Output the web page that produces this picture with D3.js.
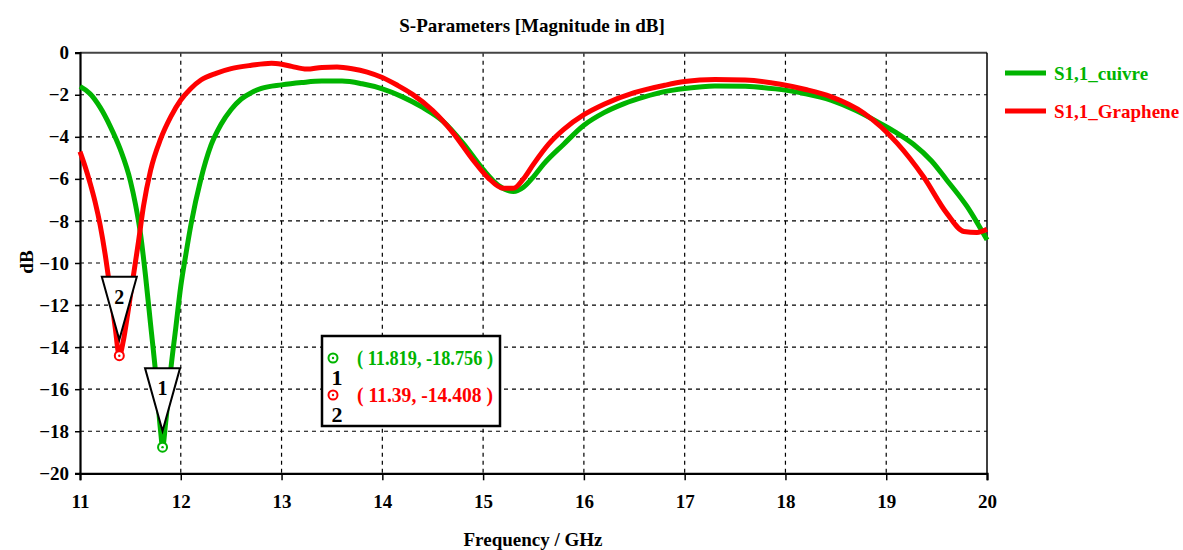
<!DOCTYPE html>
<html><head><meta charset="utf-8">
<script src="https://cdn.jsdelivr.net/npm/d3@7"></script>
<style>
body{margin:0;background:#fff;}
svg text{font-family:"Liberation Serif",Tinos,"Times New Roman",Times,"DejaVu Serif",serif !important;font-weight:bold;}
</style></head>
<body><svg id="c" width="1183" height="550"></svg>
<script>
const freqCuivre = [11.0,11.1,11.2,11.3,11.4,11.5,11.55,11.6,11.65,11.7,11.75,11.8,11.819,11.85,11.9,11.95,12.0,12.05,12.1,12.2,12.3,12.4,12.5,12.6,12.7,12.8,13.0,13.2,13.4,13.6,13.8,14.0,14.2,14.4,14.6,14.8,15.0,15.15,15.3,15.4,15.5,15.6,15.8,16.0,16.2,16.4,16.6,16.8,17.0,17.3,17.6,17.9,18.2,18.45,18.7,18.94,19.1,19.27,19.45,19.6,19.8,20.0];
const s11Cuivre = [-1.6,-1.95,-2.6,-3.5,-4.6,-6.1,-7.2,-8.6,-10.6,-12.9,-15.2,-18.0,-18.756,-17.6,-15.1,-13.1,-11.1,-9.6,-8.2,-6.0,-4.4,-3.4,-2.7,-2.2,-1.9,-1.7,-1.53,-1.42,-1.35,-1.35,-1.48,-1.72,-2.1,-2.6,-3.25,-4.3,-5.55,-6.3,-6.6,-6.4,-5.9,-5.3,-4.35,-3.45,-2.85,-2.42,-2.1,-1.85,-1.7,-1.58,-1.6,-1.72,-1.95,-2.25,-2.75,-3.36,-3.8,-4.35,-5.15,-6.05,-7.3,-8.9];
const freqGraphene = [11.0,11.05,11.1,11.15,11.2,11.25,11.3,11.35,11.39,11.43,11.48,11.53,11.58,11.63,11.7,11.8,11.9,12.0,12.1,12.2,12.35,12.5,12.7,12.9,13.0,13.1,13.25,13.4,13.55,13.7,13.85,14.0,14.15,14.3,14.5,14.7,14.9,15.05,15.2,15.3,15.4,15.5,15.65,15.8,16.0,16.2,16.5,16.8,17.0,17.3,17.6,17.95,18.2,18.45,18.78,19.11,19.37,19.6,19.77,19.9,20.0];
const s11Graphene = [-4.7,-5.4,-6.2,-7.1,-8.2,-9.6,-11.3,-13.1,-14.408,-13.7,-12.2,-10.6,-9.0,-7.3,-5.6,-4.1,-3.05,-2.25,-1.7,-1.3,-0.98,-0.76,-0.6,-0.5,-0.55,-0.65,-0.78,-0.7,-0.68,-0.76,-0.92,-1.18,-1.55,-1.98,-2.75,-3.8,-5.1,-5.95,-6.45,-6.45,-6.0,-5.3,-4.35,-3.65,-2.95,-2.45,-1.9,-1.55,-1.37,-1.27,-1.3,-1.5,-1.75,-2.09,-2.88,-4.31,-5.9,-7.63,-8.5,-8.55,-8.4];
const seriesNames = ["S1,1_cuivre","S1,1_Graphene"];
const seriesColors = ["#00b400","#ff0000"];
const xTicks = [11,12,13,14,15,16,17,18,19,20];
const yTicks = [0,-2,-4,-6,-8,-10,-12,-14,-16,-18,-20];
const markerIds = ["1","2"];
const markerFreq = [11.819,11.39];
const markerVal = [-18.756,-14.408];
const markerText = ["( 11.819, -18.756 )","( 11.39, -14.408 )"];

const FONT='"Liberation Serif",Tinos,"Times New Roman",Times,"DejaVu Serif",serif';
const svg = d3.select("#c");
const L=80, R=987, T=52.7, B=473.3;
const x = d3.scaleLinear().domain([11,20]).range([L,R]);
const y = d3.scaleLinear().domain([0,-20]).range([T,B]);

function txt(sel){ return sel.attr("font-family",FONT).attr("font-weight","bold"); }

// grid
const g = svg.append("g");
g.selectAll(".vg").data(xTicks.slice(1,-1)).enter().append("line")
  .attr("x1",d=>x(d)).attr("x2",d=>x(d)).attr("y1",T).attr("y2",B)
  .attr("stroke","#000").attr("stroke-width",1.2).attr("stroke-dasharray","4,4");
g.selectAll(".hg").data(yTicks.slice(1,-1)).enter().append("line")
  .attr("x1",L).attr("x2",R).attr("y1",d=>y(d)).attr("y2",d=>y(d))
  .attr("stroke","#000").attr("stroke-width",1.2).attr("stroke-dasharray","4,4");
svg.append("line").attr("x1",L).attr("x2",R).attr("y1",T).attr("y2",T).attr("stroke","#444").attr("stroke-width",2);
svg.append("line").attr("x1",R).attr("x2",R).attr("y1",T).attr("y2",B).attr("stroke","#000").attr("stroke-width",1.5);

// axes
const xAxis = d3.axisBottom(x).tickValues(xTicks).tickSize(7).tickPadding(14).tickFormat(d3.format("d"));
const ax = svg.append("g").attr("transform",`translate(0,${B})`).call(xAxis);
ax.attr("font-family",FONT);
ax.select(".domain").attr("stroke","#000").attr("stroke-width",2.2);
ax.selectAll(".tick line").attr("stroke","#000").attr("stroke-width",1.5);
txt(ax.selectAll("text")).attr("font-size",19).attr("fill","#000");
const yAxis = d3.axisLeft(y).tickValues(yTicks).tickSize(5).tickPadding(6).tickFormat(d3.format("d"));
const ay = svg.append("g").attr("transform",`translate(${L},0)`).call(yAxis);
ay.attr("font-family",FONT);
ay.select(".domain").attr("stroke","#000").attr("stroke-width",2.2);
ay.selectAll(".tick line").attr("stroke","#000").attr("stroke-width",1.5);
txt(ay.selectAll("text")).attr("font-size",19).attr("fill","#000");

// curves
const line = d3.line().x(d=>x(d[0])).y(d=>y(d[1])).curve(d3.curveMonotoneX);
const dataC = freqCuivre.map((f,i)=>[f,s11Cuivre[i]]);
const dataG = freqGraphene.map((f,i)=>[f,s11Graphene[i]]);
[dataC,dataG].forEach((d,i)=>{
  svg.append("path").datum(d).attr("d",line).attr("fill","none")
    .attr("stroke",seriesColors[i]).attr("stroke-width",5).attr("stroke-linejoin","round");
});

// marker triangles
markerIds.forEach((id,i)=>{
  const px=x(markerFreq[i]), py=y(markerVal[i]);
  const ay2=py-16, top=ay2-63, hw=17.5;
  svg.append("path").attr("d",`M${px-hw},${top}L${px+hw},${top}L${px},${ay2}Z`)
    .attr("fill","#fff").attr("stroke","#000").attr("stroke-width",2);
  txt(svg.append("text")).attr("x",px).attr("y",top+27).attr("text-anchor","middle")
    .attr("font-size",20).attr("fill","#000").text(id);
  const col=seriesColors[i];
  svg.append("circle").attr("cx",px).attr("cy",py).attr("r",4.5).attr("fill","#fff").attr("stroke",col).attr("stroke-width",2);
  svg.append("circle").attr("cx",px).attr("cy",py).attr("r",1.2).attr("fill",col);
});

// marker box
svg.append("rect").attr("x",322).attr("y",336).attr("width",178).attr("height",90)
  .attr("fill","#fff").attr("stroke","#000").attr("stroke-width",2.5);
markerIds.forEach((id,i)=>{
  const cy=358+i*37, col=seriesColors[i];
  svg.append("circle").attr("cx",333).attr("cy",cy).attr("r",4.5).attr("fill","#fff").attr("stroke",col).attr("stroke-width",2);
  svg.append("circle").attr("cx",333).attr("cy",cy).attr("r",1.2).attr("fill",col);
  txt(svg.append("text")).attr("x",337).attr("y",cy+27).attr("text-anchor","middle").attr("font-size",22).attr("fill","#000").text(id);
  txt(svg.append("text")).attr("x",357).attr("y",cy+7).attr("font-size",20).attr("textLength",136).attr("lengthAdjust","spacingAndGlyphs").attr("fill",col).text(markerText[i]);
});

// legend
seriesNames.forEach((n,i)=>{
  const ly=73+i*38;
  svg.append("line").attr("x1",1005).attr("x2",1046).attr("y1",ly).attr("y2",ly).attr("stroke",seriesColors[i]).attr("stroke-width",5);
  txt(svg.append("text")).attr("x",1054).attr("y",ly+7).attr("font-size",19).attr("fill",seriesColors[i]).text(n);
});

// titles
txt(svg.append("text")).attr("x",532).attr("y",32).attr("text-anchor","middle").attr("font-size",19).attr("fill","#000").text("S-Parameters [Magnitude in dB]");
txt(svg.append("text")).attr("x",533).attr("y",546).attr("text-anchor","middle").attr("font-size",19).attr("fill","#000").text("Frequency / GHz");
txt(svg.append("text")).attr("transform","translate(33,262) rotate(-90)").attr("text-anchor","middle").attr("font-size",19).attr("fill","#000").text("dB");
</script></body></html>
